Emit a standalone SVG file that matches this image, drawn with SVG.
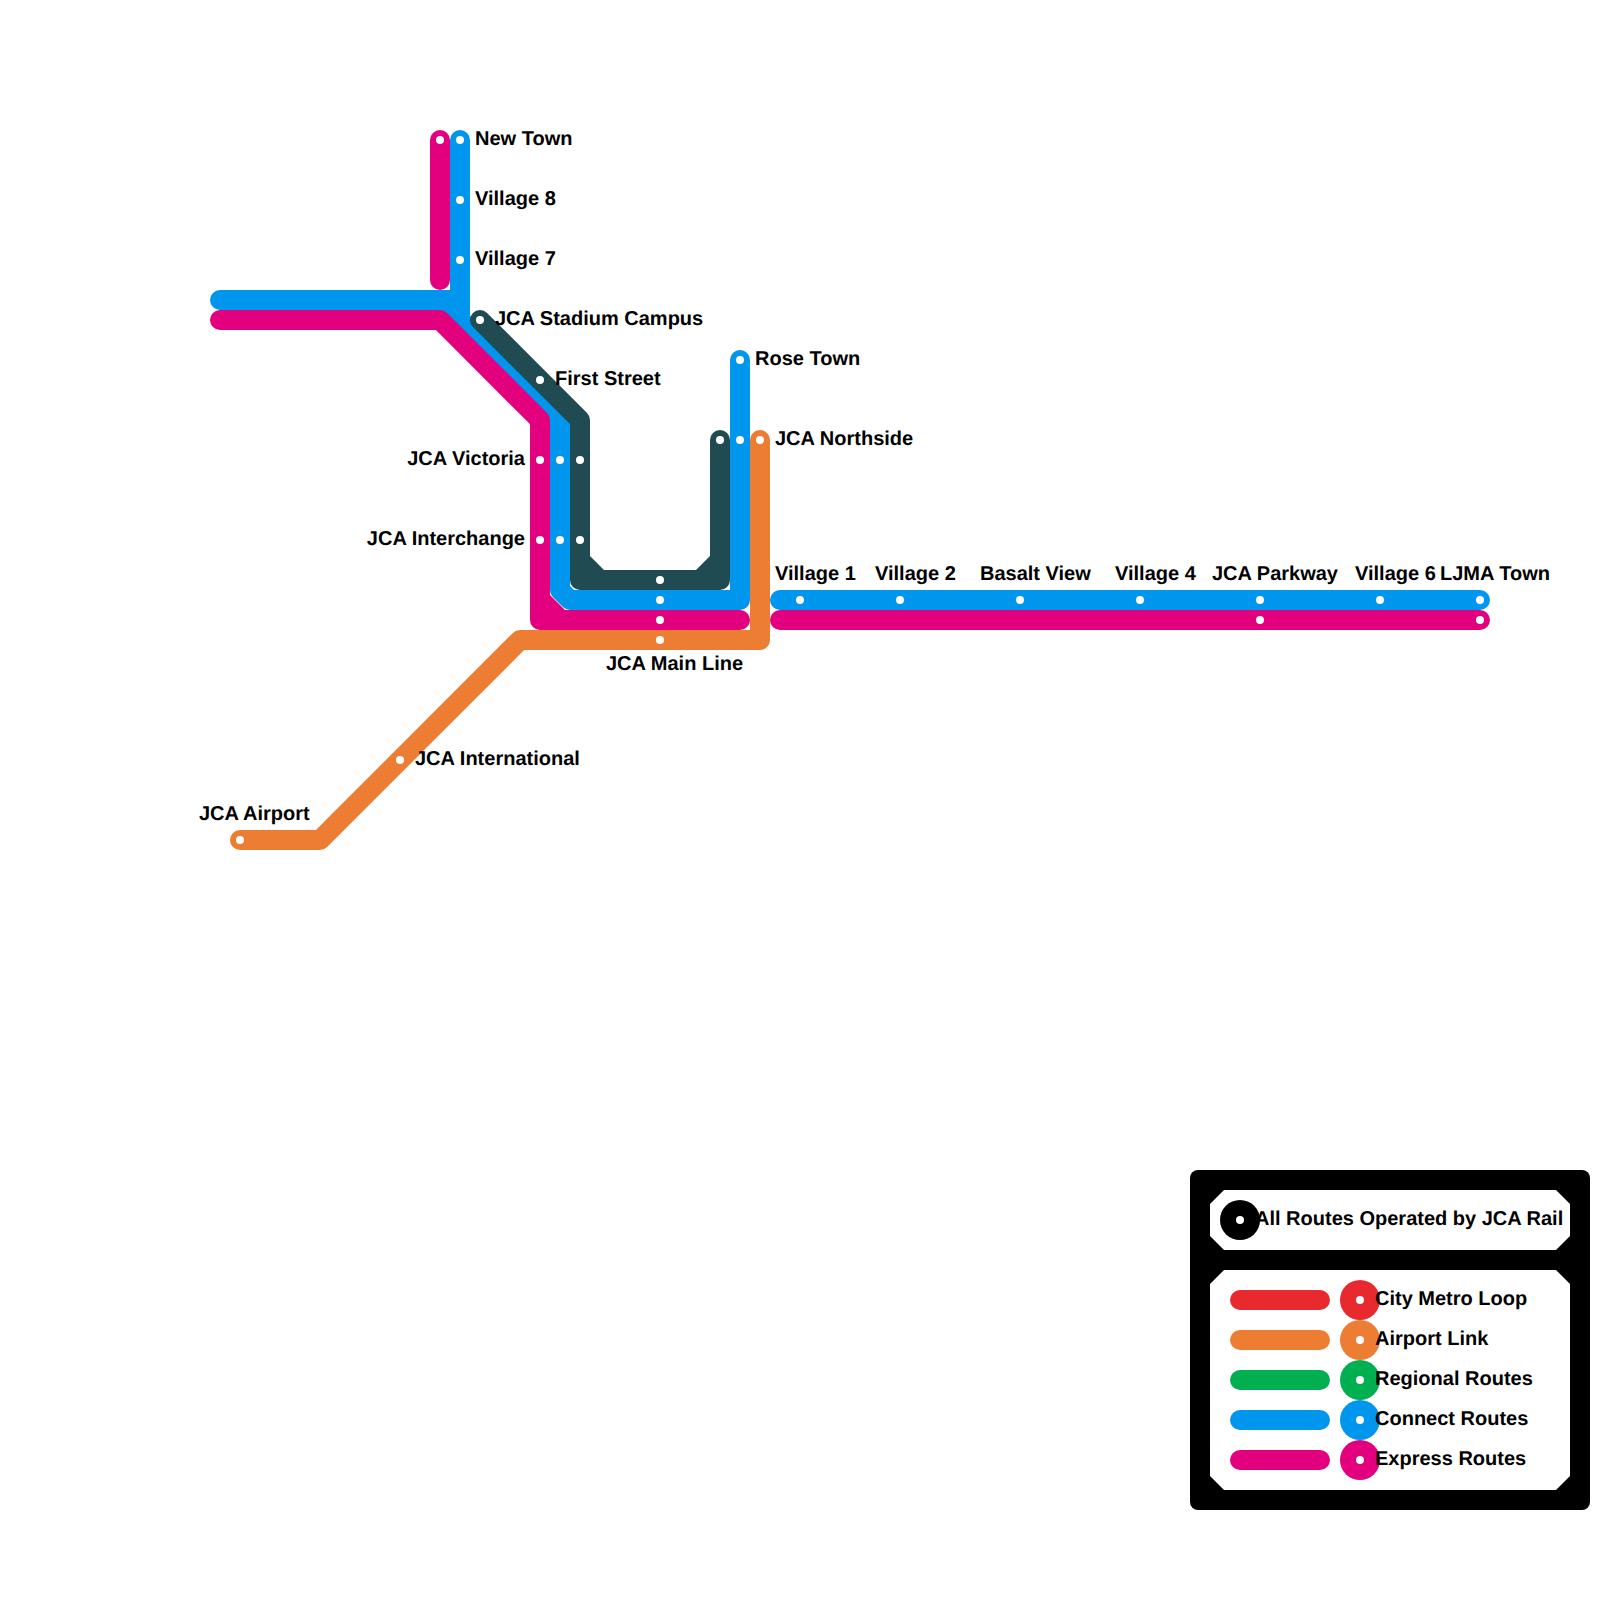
<svg xmlns="http://www.w3.org/2000/svg" width="1600" height="1600" viewBox="0 0 1600 1600">
<style>
.l{fill:none;stroke-width:20;stroke-linecap:round;stroke-linejoin:round}
.red{stroke:#e8292e}.org{stroke:#ed7d33}.grn{stroke:#00b050}.blu{stroke:#0096ee}.mag{stroke:#e2007f}.drk{stroke:#204b52}
.s{fill:#fff}
.t{font-family:"Liberation Sans",Arial,sans-serif;font-weight:700;font-size:20px;fill:#000;text-rendering:geometricPrecision}
.e{text-anchor:end}
</style>
<rect width="1600" height="1600" fill="#fff"/>
<g id="connectors">
<path class="l blu" d="M460 140V320"/>
<path class="l blu" d="M220 300H460"/>
<path class="l blu" d="M440 300L560 420V590L570 600H740V360"/>
<path class="l blu" d="M780 600H1480"/>
<path class="l mag" d="M440 140V280"/>
<path class="l mag" d="M220 320H440L540 420V620H740"/>
<polygon fill="#e2007f" points="550,595 550,610 565,610"/>
<path class="l mag" d="M780 620H1480"/>
<path class="l org" d="M760 440V640H520L320 840H240"/>
<path class="l drk" d="M480 320L580 420V580H720V440"/>
<polygon fill="#204b52" points="590,556 604,570 590,570"/>
<polygon fill="#204b52" points="710,556 696,570 710,570"/>
</g>
<g id="stations">
<circle class="s" cx="440" cy="140" r="4"/><circle class="s" cx="460" cy="140" r="4"/>
<circle class="s" cx="460" cy="200" r="4"/><circle class="s" cx="460" cy="260" r="4"/>
<circle class="s" cx="480" cy="320" r="4"/><circle class="s" cx="540" cy="380" r="4"/>
<circle class="s" cx="540" cy="460" r="4"/><circle class="s" cx="560" cy="460" r="4"/><circle class="s" cx="580" cy="460" r="4"/>
<circle class="s" cx="540" cy="540" r="4"/><circle class="s" cx="560" cy="540" r="4"/><circle class="s" cx="580" cy="540" r="4"/>
<circle class="s" cx="660" cy="580" r="4"/><circle class="s" cx="660" cy="600" r="4"/><circle class="s" cx="660" cy="620" r="4"/><circle class="s" cx="660" cy="640" r="4"/>
<circle class="s" cx="720" cy="440" r="4"/><circle class="s" cx="740" cy="360" r="4"/><circle class="s" cx="740" cy="440" r="4"/><circle class="s" cx="760" cy="440" r="4"/>
<circle class="s" cx="400" cy="760" r="4"/><circle class="s" cx="240" cy="840" r="4"/>
<circle class="s" cx="800" cy="600" r="4"/><circle class="s" cx="900" cy="600" r="4"/><circle class="s" cx="1020" cy="600" r="4"/><circle class="s" cx="1140" cy="600" r="4"/>
<circle class="s" cx="1260" cy="600" r="4"/><circle class="s" cx="1260" cy="620" r="4"/><circle class="s" cx="1380" cy="600" r="4"/><circle class="s" cx="1480" cy="600" r="4"/><circle class="s" cx="1480" cy="620" r="4"/>
</g>
<g id="labels">
<text class="t" x="475" y="145">New Town</text>
<text class="t" x="475" y="205">Village 8</text>
<text class="t" x="475" y="265">Village 7</text>
<text class="t" x="495" y="325">JCA Stadium Campus</text>
<text class="t" x="555" y="385">First Street</text>
<text class="t" x="755" y="365">Rose Town</text>
<text class="t" x="775" y="445">JCA Northside</text>
<text class="t e" x="525" y="465">JCA Victoria</text>
<text class="t e" x="525" y="545">JCA Interchange</text>
<text class="t" x="775" y="580">Village 1</text>
<text class="t" x="875" y="580">Village 2</text>
<text class="t" x="980" y="580">Basalt View</text>
<text class="t" x="1115" y="580">Village 4</text>
<text class="t" x="1212" y="580">JCA Parkway</text>
<text class="t" x="1355" y="580">Village 6</text>
<text class="t" x="1440" y="580">LJMA Town</text>
<text class="t" x="606" y="670">JCA Main Line</text>
<text class="t" x="415" y="765">JCA International</text>
<text class="t" x="199" y="820">JCA Airport</text>
</g>
<g id="legend">
<rect x="1190" y="1170" width="400" height="340" rx="8" fill="#000"/>
<polygon fill="#fff" points="1224,1190 1556,1190 1570,1204 1570,1236 1556,1250 1224,1250 1210,1236 1210,1204"/>
<polygon fill="#fff" points="1224,1270 1556,1270 1570,1284 1570,1476 1556,1490 1224,1490 1210,1476 1210,1284"/>
<circle cx="1240" cy="1220" r="20" fill="#000"/><circle class="s" cx="1240" cy="1220" r="4"/>
<text class="t" x="1255" y="1225">All Routes Operated by JCA Rail</text>
<path class="l red" d="M1240 1300H1320"/>
<path class="l org" d="M1240 1340H1320"/>
<path class="l grn" d="M1240 1380H1320"/>
<path class="l blu" d="M1240 1420H1320"/>
<path class="l mag" d="M1240 1460H1320"/>
<circle cx="1360" cy="1300" r="20" fill="#e8292e"/><circle class="s" cx="1360" cy="1300" r="4"/>
<circle cx="1360" cy="1340" r="20" fill="#ed7d33"/><circle class="s" cx="1360" cy="1340" r="4"/>
<circle cx="1360" cy="1380" r="20" fill="#00b050"/><circle class="s" cx="1360" cy="1380" r="4"/>
<circle cx="1360" cy="1420" r="20" fill="#0096ee"/><circle class="s" cx="1360" cy="1420" r="4"/>
<circle cx="1360" cy="1460" r="20" fill="#e2007f"/><circle class="s" cx="1360" cy="1460" r="4"/>
<text class="t" x="1375" y="1305">City Metro Loop</text>
<text class="t" x="1375" y="1345">Airport Link</text>
<text class="t" x="1375" y="1385">Regional Routes</text>
<text class="t" x="1375" y="1425">Connect Routes</text>
<text class="t" x="1375" y="1465">Express Routes</text>
</g>
</svg>
